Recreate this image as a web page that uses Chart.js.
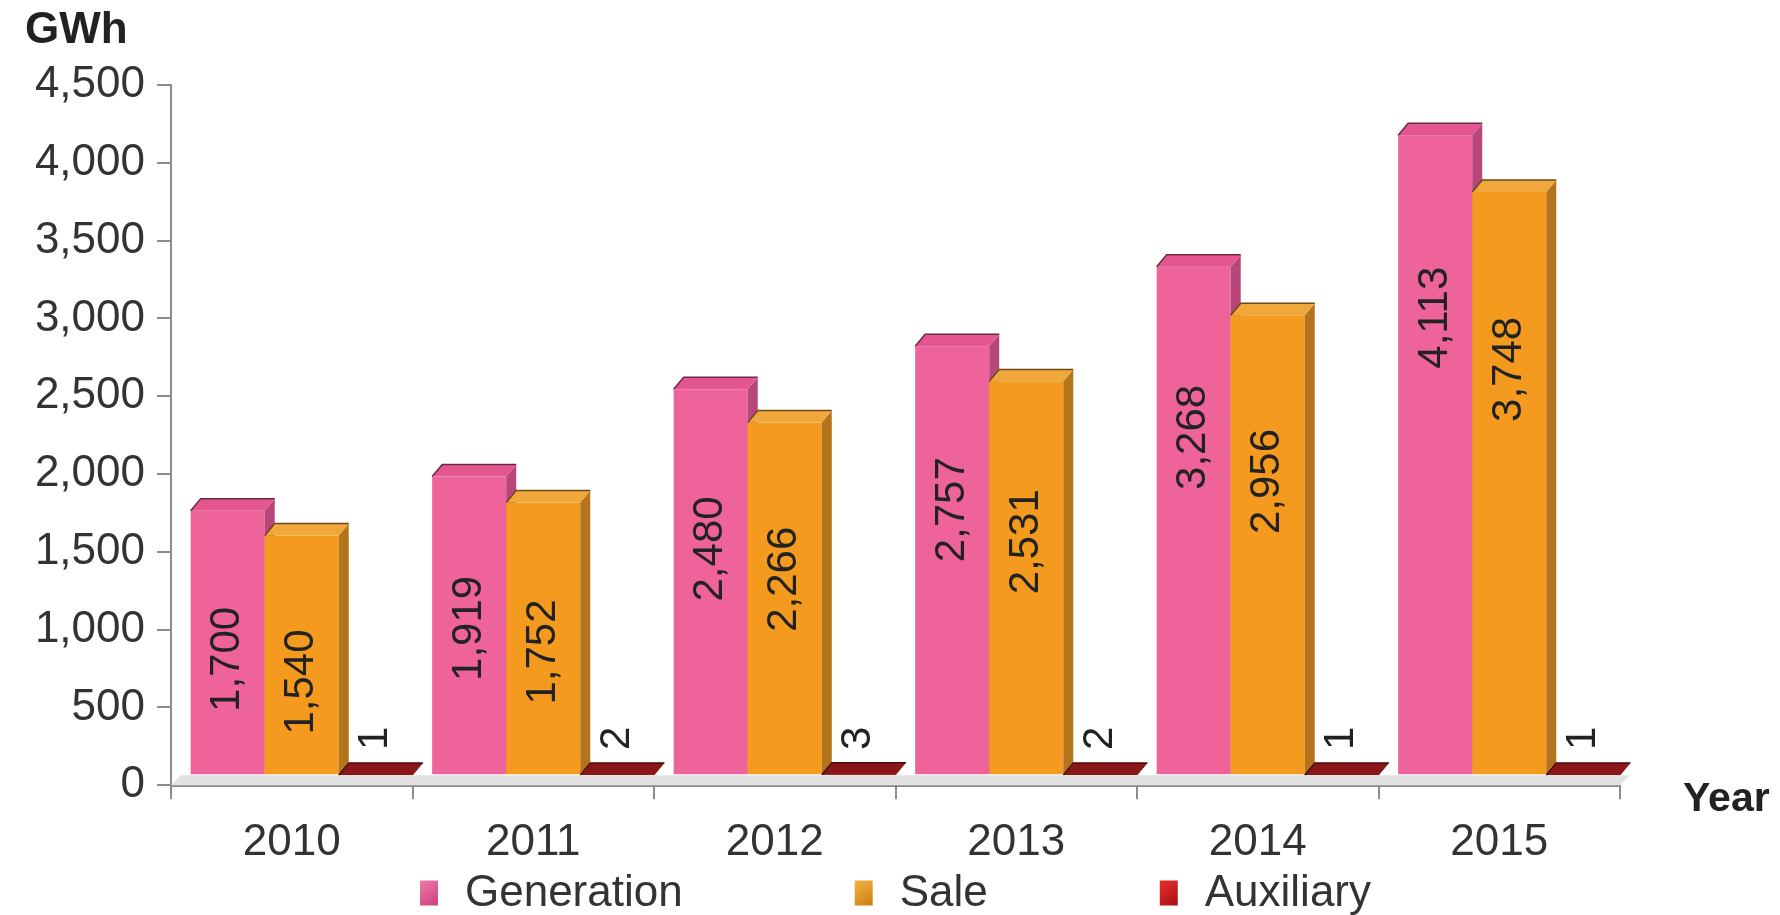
<!DOCTYPE html>
<html>
<head>
<meta charset="utf-8">
<script src="https://cdn.jsdelivr.net/npm/chart.js@4.4.1/dist/chart.umd.min.js"></script>
<style>
  html, body { margin: 0; padding: 0; background: #fff; }
  #wrap { width: 1780px; height: 915px; }
</style>
</head>
<body>
<div id="wrap"><canvas id="energyChart"></canvas></div>
<script>
const years = ['2010', '2011', '2012', '2013', '2014', '2015'];
const seriesNames = ['Generation', 'Sale', 'Auxiliary'];
const generation = [1700, 1919, 2480, 2757, 3268, 4113];
const sale = [1540, 1752, 2266, 2531, 2956, 3748];
const auxiliary = [1, 2, 3, 2, 1, 1];
const yMin = 0;
const yMax = 4500;
const yStep = 500;

const FONT = '"Liberation Sans", Arial, sans-serif';
// the bars stand a little behind the axis plane, like in a 3D column chart
const SHIFT_X = 10, SHIFT_Y = 10;
const DX = 10, DY = 12;

// front / side / top shades for the fake 3D bars
const faces = [
    { front: '#ee6399', side: '#b8467a', top: '#e4568f', edge: '#6b2a44' },
    { front: '#f49b1f', side: '#b3741c', top: '#f0a73c', edge: '#6b4a14' },
    { front: '#7d1414', side: '#5a0d0d', top: '#8a1717', edge: '#4a0a0a' }
];
const legendColors = [
    ['#f07aaa', '#c9427c'],
    ['#f7b340', '#c97f12'],
    ['#e83030', '#a81010']
];

const bars3d = {
    id: 'bars3d',
    beforeDatasetsDraw(chart) {
        const ctx = chart.ctx;
        const area = chart.chartArea;
        ctx.save();
        ctx.fillStyle = '#e2e2e2';
        ctx.beginPath();
        ctx.moveTo(area.left, area.bottom);
        ctx.lineTo(area.left + SHIFT_X, area.bottom - SHIFT_Y);
        ctx.lineTo(area.right + SHIFT_X, area.bottom - SHIFT_Y);
        ctx.lineTo(area.right, area.bottom);
        ctx.closePath();
        ctx.fill();
        ctx.restore();
    },
    afterDatasetsDraw(chart) {
        const ctx = chart.ctx;
        const area = chart.chartArea;
        const bars = chart.data.datasets.map((ds, i) => chart.getDatasetMeta(i).data.map(bar => {
            const p = bar.getProps(['x', 'y', 'base', 'width'], true);
            return { x: p.x + SHIFT_X, y: p.y - SHIFT_Y, base: p.base - SHIFT_Y, width: p.width };
        }));
        ctx.save();
        for (let j = 0; j < years.length; j++) {
            bars.forEach((row, i) => {
                const p = row[j];
                const l = p.x - p.width / 2, r = p.x + p.width / 2;
                const f = faces[i];
                ctx.fillStyle = f.front;
                ctx.fillRect(l, p.y, p.width, p.base - p.y);
                ctx.fillStyle = f.side;
                ctx.beginPath();
                ctx.moveTo(r, p.y);
                ctx.lineTo(r + DX, p.y - DY);
                ctx.lineTo(r + DX, p.base - DY);
                ctx.lineTo(r, p.base);
                ctx.closePath();
                ctx.fill();
                ctx.fillStyle = f.top;
                ctx.strokeStyle = f.edge;
                ctx.lineWidth = 1.5;
                ctx.beginPath();
                ctx.moveTo(l, p.y);
                ctx.lineTo(l + DX, p.y - DY);
                ctx.lineTo(r + DX, p.y - DY);
                ctx.lineTo(r, p.y);
                ctx.closePath();
                ctx.fill();
                ctx.beginPath();
                ctx.moveTo(l, p.y);
                ctx.lineTo(l + DX, p.y - DY);
                ctx.lineTo(r + DX, p.y - DY);
                ctx.stroke();
            });
        }

        // value labels, written upwards
        ctx.fillStyle = '#222';
        ctx.font = '42px ' + FONT;
        ctx.textAlign = 'center';
        ctx.textBaseline = 'middle';
        chart.data.datasets.forEach((ds, i) => {
            bars[i].forEach((p, j) => {
                let cy;
                if (i === 2) {
                    cy = p.base - 36;
                } else {
                    cy = p.base - Math.max(0.91 * (p.base - p.y) - 125, 88);
                }
                ctx.save();
                ctx.translate(p.x, cy);
                ctx.rotate(-Math.PI / 2);
                ctx.fillText(ds.data[j].toLocaleString('en-US'), 0, 0);
                ctx.restore();
            });
        });

        // axis titles
        ctx.textAlign = 'left';
        ctx.fillStyle = '#222';
        ctx.font = 'bold 44px ' + FONT;
        ctx.fillText('GWh', 25, 31);
        ctx.font = 'bold 41px ' + FONT;
        ctx.fillText('Year', area.right + 63, area.bottom + 14);

        // legend
        ctx.font = '44px ' + FONT;
        const boxW = 18, boxH = 25, gapText = 27, gapItem = 172;
        const widths = seriesNames.map(n => boxW + gapText + ctx.measureText(n).width);
        const total = widths.reduce((a, b) => a + b, 0) + gapItem * (seriesNames.length - 1);
        let x = (area.left + area.right) / 2 - total / 2;
        const ly = 893;
        seriesNames.forEach((name, i) => {
            const g = ctx.createLinearGradient(x, ly - boxH / 2, x + boxW, ly + boxH / 2);
            g.addColorStop(0, legendColors[i][0]);
            g.addColorStop(1, legendColors[i][1]);
            ctx.fillStyle = g;
            ctx.fillRect(x, ly - boxH / 2, boxW, boxH);
            ctx.fillStyle = '#333';
            ctx.fillText(name, x + boxW + gapText, ly + 1);
            x += widths[i] + gapItem;
        });
        ctx.restore();
    }
};

const ctx = document.getElementById('energyChart').getContext('2d');

new Chart(ctx, {
    type: 'bar',
    data: {
        labels: years,
        datasets: [
            { label: seriesNames[0], data: generation, backgroundColor: 'rgba(0,0,0,0)' },
            { label: seriesNames[1], data: sale, backgroundColor: 'rgba(0,0,0,0)' },
            { label: seriesNames[2], data: auxiliary, backgroundColor: 'rgba(0,0,0,0)' }
        ]
    },
    options: {
        responsive: true,
        maintainAspectRatio: false,
        devicePixelRatio: 1,
        animation: false,
        categoryPercentage: 0.92,
        barPercentage: 1,
        layout: {
            padding: { top: 85, right: 160, bottom: 29, left: 0 }
        },
        plugins: {
            tooltip: { enabled: false },
            legend: { display: false }
        },
        scales: {
            x: {
                grid: { offset: true, drawOnChartArea: false, tickLength: 14, color: '#8c8c8c', lineWidth: 2 },
                border: { color: '#8a8a8a', width: 3 },
                ticks: { font: { family: FONT, size: 44 }, color: '#333', padding: 17 }
            },
            y: {
                min: yMin,
                max: yMax,
                grid: { drawOnChartArea: false, tickLength: 14, color: '#8c8c8c', lineWidth: 2 },
                border: { color: '#8c8c8c', width: 2 },
                ticks: {
                    stepSize: yStep,
                    font: { family: FONT, size: 44 },
                    color: '#333',
                    padding: 12,
                    callback: v => v.toLocaleString('en-US')
                },
                afterFit(scale) { scale.width = 171; }
            }
        }
    },
    plugins: [bars3d]
});
</script>
</body>
</html>
